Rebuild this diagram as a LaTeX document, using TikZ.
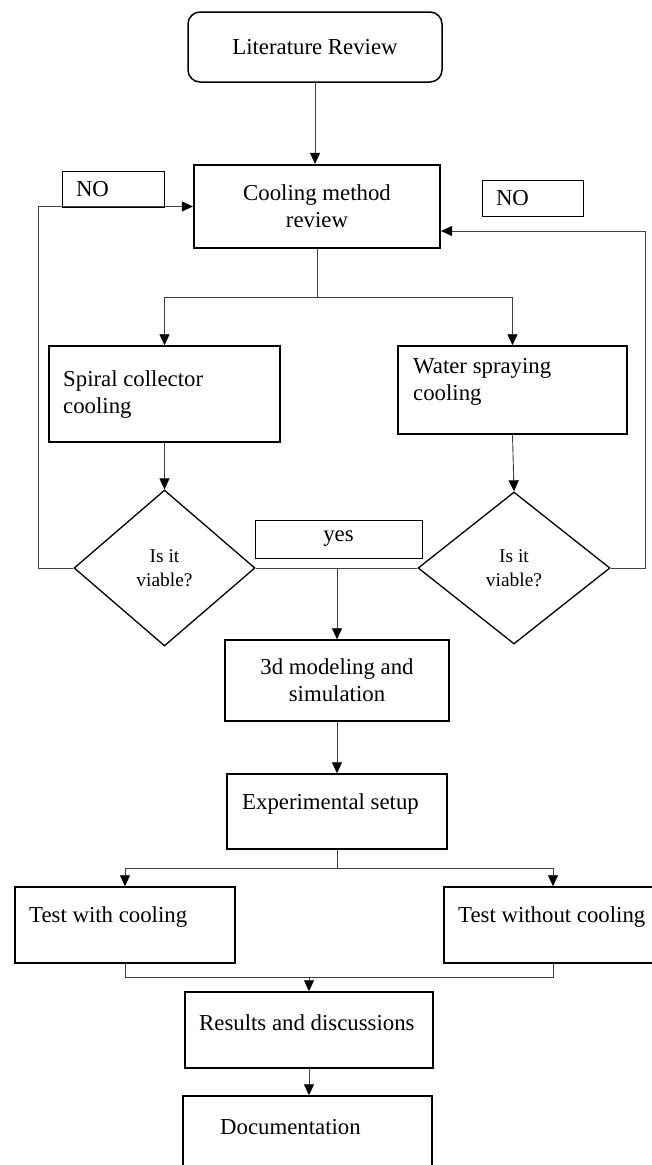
\documentclass[tikz,border=0pt]{standalone}
\usepackage{fontspec}
\setmainfont{Liberation Serif}
\usetikzlibrary{shapes.geometric,arrows.meta}
\begin{document}
\begin{tikzpicture}[x=1pt,y=-1pt,
  box/.style={draw, line width=1.5pt, inner sep=0pt, align=center, font=\fontsize{22.8}{27}\selectfont},
  thinbox/.style={draw, line width=0.8pt, inner sep=0pt, font=\fontsize{22.8}{27}\selectfont},
  txt/.style={inner sep=0pt, align=left, font=\fontsize{22.8}{27}\selectfont},
  dia/.style={draw, diamond, line width=1.3pt, inner sep=0pt, align=center, font=\fontsize{19.4}{24}\selectfont},
  conn/.style={line width=0.9pt, draw=black!75},
  arr/.style={conn, -{Triangle[length=11pt,width=10pt,color=black]}}
]
\fill[white] (0,0) rectangle (652,1165);
\useasboundingbox (0,0) rectangle (652,1165);

% boxes
\node[box, rounded corners=12pt, minimum width=254pt, minimum height=70pt] (lit) at (315,47) {Literature Review};
\node[box, line width=2.2pt, minimum width=246pt, minimum height=83pt] (cool) at (317,206.5) {Cooling method\\review};
\node[thinbox, minimum width=102pt, minimum height=36pt, text width=74pt, inner xsep=14pt, align=left] (noL) at (113,189) {NO};
\node[thinbox, minimum width=101pt, minimum height=36pt, text width=73pt, inner xsep=14pt, align=left] (noR) at (532.5,198) {NO};

\node[box, minimum width=231pt, minimum height=96pt] (spiral) at (164.5,394) {};
\node[txt, anchor=west] (spiralt) at (63,394.5) {Spiral collector\\cooling};
\node[box, minimum width=229pt, minimum height=88pt] (water) at (512.5,390) {};
\node[txt, anchor=west] (watert) at (413,382) {Water spraying\\cooling};

\node[dia, minimum width=181pt, minimum height=156pt] (dl) at (164.5,568) {Is it\\viable?};
\node[dia, minimum width=192pt, minimum height=152pt] (dr) at (514,568) {Is it\\viable?};
\node[thinbox, minimum width=167pt, minimum height=38pt] (yes) at (338.5,539) {yes};

\node[box, minimum width=224pt, minimum height=81pt] (mod) at (337,680.5) {3d modeling and\\simulation};
\node[box, minimum width=220pt, minimum height=75pt] (exp) at (337,811.5) {};
\node[txt, anchor=west] (expt) at (242,804) {Experimental setup};

\node[box, minimum width=220pt, minimum height=76pt] (twc) at (125,925) {};
\node[txt, anchor=west] (twct) at (29,917) {Test with cooling};
\node[box, minimum width=218pt, minimum height=76pt] (two) at (553,925) {};
\node[txt, anchor=west] (twot) at (458,917) {Test without cooling};

\node[box, minimum width=248pt, minimum height=76pt] (res) at (309,1030) {};
\node[txt, anchor=west] (rest) at (199,1023) {Results and discussions};
\node[box, minimum width=249pt, minimum height=76pt] (doc) at (307.5,1134) {};
\node[txt, anchor=west] (doct) at (220,1127) {Documentation};

% junctions
\coordinate (j1) at (317,297);
\coordinate (j2) at (337,868);
\coordinate (j3) at (309,977);

% connectors
\draw[arr] (lit.south) -- (lit.south |- cool.north);
\draw[conn] (cool.south) -- (j1);
\draw[arr] (j1) -| (spiral.north);
\draw[arr] (j1) -| (water.north);
\draw[arr] (spiral.south) -- (dl.north);
\draw[arr] (water.south) -- (dr.north);
\draw[arr] (dl.west) -- ++(-35,0) |- (cool.west);
\draw[arr] (dr.east) -- ++(35,0) |- ([yshift=-24.5pt]cool.east);
\draw[conn] (dl.east) -- (dr.west);
\draw[arr] (dl.east -| mod.north) -- (mod.north);
\draw[arr] (mod.south) -- (exp.north);
\draw[conn] (exp.south) -- (j2);
\draw[arr] (j2) -| (twc.north);
\draw[arr] (j2) -| (two.north);
\draw[conn] (twc.south) |- (j3);
\draw[conn] (two.south) |- (j3);
\draw[arr] (j3) -- (res.north);
\draw[arr] (res.south) -- (res.south |- doc.north);
\end{tikzpicture}
\end{document}
